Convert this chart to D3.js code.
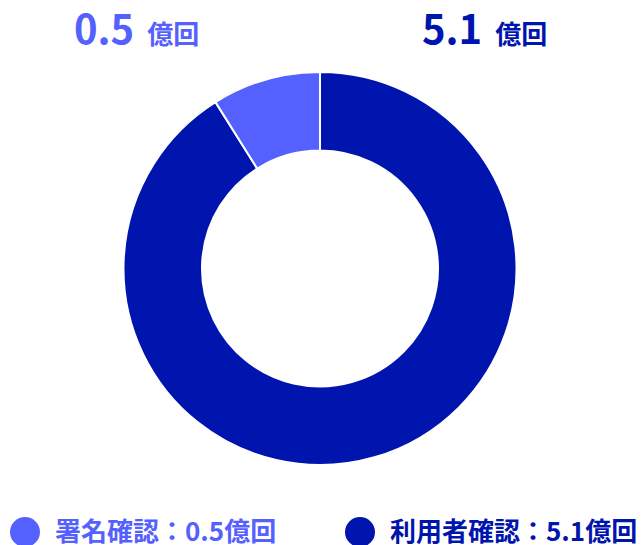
<!DOCTYPE html>
<html lang="ja">
<head>
    <meta charset="UTF-8">
    <title>Donut Chart</title>

    <script src="https://d3js.org/d3.v7.min.js"></script>

    <style>
        body {
            margin: 0;
            background: #fff;
        }

        svg {
            display: block;
            font-family: "Noto Sans CJK JP", sans-serif;
            font-weight: 700;
        }
    </style>

    <script>

        const CATEGORIES = ["利用者確認", "署名確認"];
        const VALUES = [5.1, 0.5];
        const UNIT = "億回";
        const COLORS = ["#0014ae", "#5461ff"];

        document.addEventListener("DOMContentLoaded", () => makeGraph());

        function makeGraph() {

            const width = 641;
            const height = 545;

            const cx = 320;
            const cy = 268.5;
            const outer = 196.5;
            const inner = 118;

            const svg = d3.select("svg")
                .attr("width", width)
                .attr("height", height);

            const data = CATEGORIES.map((c, i) => ({name: c, value: VALUES[i], color: COLORS[i]}));

            const pie = d3.pie().sort(null).value(d => d.value);
            const arc = d3.arc().innerRadius(inner).outerRadius(outer);

            const g = svg.append("g").attr("transform", "translate(" + cx + "," + cy + ")");

            g.selectAll("path")
                .data(pie(data))
                .join("path")
                .attr("d", arc)
                .attr("fill", d => d.data.color)
                .attr("stroke", "#fff")
                .attr("stroke-width", 2);

            // big value labels on top
            const topX = {"署名確認": 74, "利用者確認": 422};
            data.forEach(d => {
                const t = svg.append("text")
                    .attr("x", topX[d.name])
                    .attr("y", 44)
                    .attr("fill", d.color);
                t.append("tspan").attr("font-size", 40).text(d.value.toFixed(1));
                t.append("tspan").attr("font-size", 26).attr("dx", 13).text(UNIT);
            });

            // legend
            const legendX = {"署名確認": 25, "利用者確認": 360};
            data.forEach(d => {
                const lg = svg.append("g").attr("transform", "translate(" + legendX[d.name] + ",532)");
                lg.append("circle").attr("r", 15).attr("fill", d.color);
                lg.append("text")
                    .attr("x", 30)
                    .attr("y", 9)
                    .attr("font-size", 26)
                    .attr("fill", d.color)
                    .text(d.name + "：" + d.value.toFixed(1) + UNIT);
            });
        }

    </script>

</head>
<body>
    <svg id="graph"></svg>
</body>
</html>
